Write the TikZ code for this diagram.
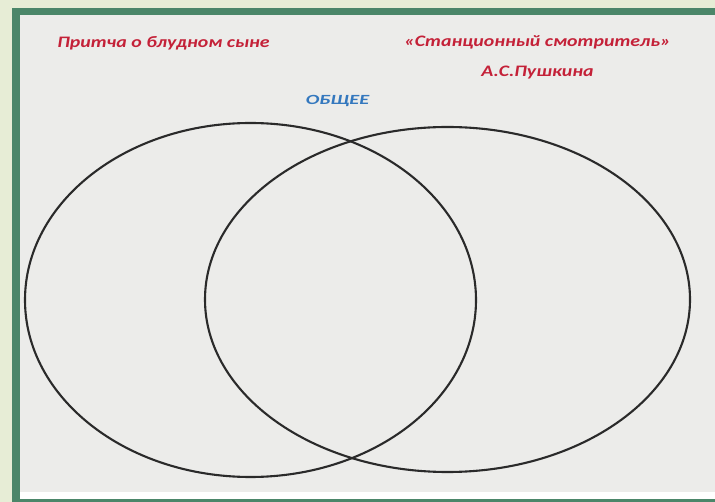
\documentclass[tikz,border=0pt]{standalone}
\usepackage{fontspec}
\setmainfont{Carlito}
\usetikzlibrary{shapes}
\definecolor{pagebg}{HTML}{E7EDD6}
\definecolor{framegreen}{HTML}{4B8669}
\definecolor{paper}{HTML}{ECECEA}
\definecolor{titlered}{HTML}{C42138}
\definecolor{commonblue}{HTML}{3478BE}
\definecolor{ringgray}{HTML}{2A2A2A}
\begin{document}
\begin{tikzpicture}[x=1pt, y=-1pt]
		\tikzstyle{ring}=[
		draw=ringgray,
		line width=2.1pt,
		ellipse,
		inner sep=0pt]
		\tikzstyle{title}=[
		text=titlered,
		inner sep=0pt,
		xscale=1.24,
		font=\fontsize{16}{18}\selectfont\bfseries\itshape]
		\tikzstyle{common}=[
		title,
		text=commonblue,
		xscale=1.17,
		font=\fontsize{14}{16}\selectfont\bfseries\itshape]
		\useasboundingbox (0,0) rectangle (715,502);
		%
		\fill[pagebg] (0,0) rectangle (715,502);
		\fill[framegreen] (12,8) rectangle (715,502);
		\fill[white] (20,15) rectangle (715,499);
		\fill[paper] (20,15) rectangle (715,492);
		%
		\node[ring, minimum width=451pt, minimum height=354pt] (Prodigal) at (250.5,300) {};
		\node[ring, minimum width=485pt, minimum height=345pt] (Station) at (447.5,299.5) {};
		%
		\node[title] (PT) at (163.5,43) {Притча о блудном сыне};
		\node[title] (ST) at (537.5,42) {«Станционный смотритель»};
		\node[title, below of=ST, node distance=31pt] (SA) {А.С.Пушкина};
		%
		\node[common] (C) at (337.5,101) {ОБЩЕЕ};
	\end{tikzpicture}
\end{document}
